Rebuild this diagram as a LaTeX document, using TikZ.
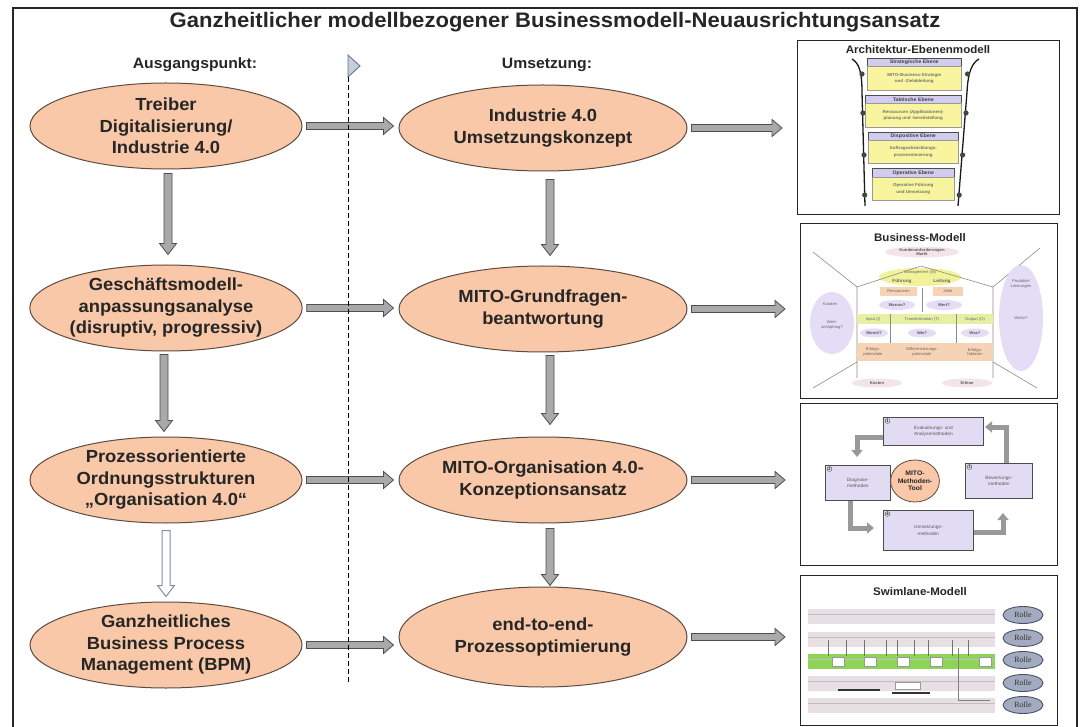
\documentclass[tikz,border=0pt]{standalone}
\usepackage{fontspec}
\setmainfont{Liberation Sans}[FakeStretch=1.05]
\newfontfamily\rollefont{Liberation Serif}
\usetikzlibrary{calc,shapes.geometric,arrows.meta}
\newcommand{\setfs}[2]{\fontsize{#1}{#2}\selectfont}
\definecolor{peach}{HTML}{F8C8A8}
\definecolor{ellb}{HTML}{5E4C40}
\definecolor{arrf}{HTML}{A9A9A9}
\definecolor{arrd}{HTML}{4E4E4E}
\definecolor{hollowd}{HTML}{8090A8}
\definecolor{triF}{HTML}{C5CEDC}
\definecolor{triD}{HTML}{5E6E86}
\definecolor{txt}{HTML}{262626}
\definecolor{lav}{HTML}{D2CCEE}
\definecolor{yel}{HTML}{F8F59E}
\definecolor{palelav}{HTML}{E5DCF5}
\definecolor{palepink}{HTML}{F3E3EA}
\definecolor{orangeB}{HTML}{F7D3B6}
\definecolor{yelgreen}{HTML}{E6F0A4}
\definecolor{mgmtY}{HTML}{F2F29A}
\definecolor{greenL}{HTML}{8ED457}
\definecolor{laneP}{HTML}{E7DFE3}
\definecolor{rolleF}{HTML}{A3ABC0}
\definecolor{rolleD}{HTML}{4A5268}
\definecolor{boxlav}{HTML}{E1DBF3}
\definecolor{markc}{HTML}{3E4A3E}
\tikzset{
  frame/.style={draw=black!85, line width=2pt},
  titlefont/.style={font=\setfs{21}{24}\bfseries, text=txt, inner sep=0pt},
  headfont/.style={font=\setfs{15}{17}\bfseries, text=txt, inner sep=0pt},
  mainell/.style={ellipse, draw=ellb, line width=1pt, fill=peach, minimum width=272pt,
    minimum height=86pt, inner sep=0pt, align=center, font=\setfs{17.5}{21.5}\bfseries, text=txt},
  blockarr/.style={fill=arrf, draw=arrd, line width=0.8pt},
  hollowarr/.style={fill=white, draw=hollowd, line width=1pt},
  divider/.style={draw=black, line width=0.8pt, dash pattern=on 5pt off 3pt},
  thumb/.style={draw=black!85, line width=1.2pt, fill=white, anchor=north west, inner sep=0pt},
  thumbtitle/.style={font=\setfs{11}{12}\bfseries, text=black!85, inner sep=0pt},
  lhead/.style={rectangle, draw=black!70, line width=0.6pt, fill=lav, inner sep=0pt, anchor=north west,
    font=\setfs{5}{5.5}\bfseries, text=black!75},
  lyel/.style={rectangle, draw=black!40, line width=0.5pt, fill=yel, inner sep=0pt, anchor=north west,
    align=center, font=\setfs{4.3}{6.5}\bfseries, text=black!55},
  funnel/.style={draw=black!90, line width=1.3pt},
  houseline/.style={draw=black!45, line width=0.6pt},
  bmtxt/.style={font=\setfs{4}{4.8}, text=black!60, align=center, inner sep=0pt},
  bmell/.style={ellipse, fill=palelav, inner sep=0pt, font=\setfs{4}{4.8}\bfseries, text=black!65, align=center},
  mbox/.style={rectangle, draw=black!70, line width=0.8pt, fill=boxlav, anchor=north west, inner sep=0pt,
    align=center, font=\setfs{4.6}{6.5}, text=black!65},
  numtag/.style={circle, draw=black!70, fill=white, line width=0.5pt, inner sep=0.4pt, font=\setfs{4}{4}\bfseries},
  bentarr/.style={draw=black!40, line width=5pt, -{Triangle[width=11pt,length=7pt]}},
  rolle/.style={ellipse, draw=rolleD, line width=0.9pt, fill=rolleF, minimum width=40pt, minimum height=17pt,
    inner sep=0pt, font=\rollefont\setfs{8}{8}, text=black!80}
}
\newcommand{\hblockarrow}[3][blockarr]{%
  \draw[#1] let \p1=(#2), \p2=(#3) in
    (\x1,\y1+3.5pt) -- (\x2-10pt,\y1+3.5pt) -- (\x2-10pt,\y1+8.5pt) -- (\x2,\y1)
    -- (\x2-10pt,\y1-8.5pt) -- (\x2-10pt,\y1-3.5pt) -- (\x1,\y1-3.5pt) -- cycle;}
\newcommand{\vblockarrow}[3][blockarr]{%
  \draw[#1] let \p1=(#2), \p2=(#3) in
    (\x1-4pt,\y1) -- (\x1-4pt,\y2+11pt) -- (\x1-8.5pt,\y2+11pt) -- (\x1,\y2)
    -- (\x1+8.5pt,\y2+11pt) -- (\x1+4pt,\y2+11pt) -- (\x1+4pt,\y1) -- cycle;}
\begin{document}
\begin{tikzpicture}[x=1pt,y=-1pt]
\useasboundingbox (0,0) rectangle (1082,727);
\fill[white] (0,0) rectangle (1082,727);

% outer frame
\draw[frame] (13,740) -- (13,8) -- (1077,8) -- (1077,740);

% headings
\node[titlefont] (title) at (555,22) {Ganzheitlicher modellbezogener Businessmodell-Neuausrichtungsansatz};
\node[headfont] (hA) at (195,65) {Ausgangspunkt:};
\node[headfont] (hU) at (547,65) {Umsetzung:};

% main ellipses
\node[mainell] (L1) at (166,126) {Treiber\\Digitalisierung/\\Industrie 4.0};
\node[mainell] (L2) at (166,308) {Geschäftsmodell-\\anpassungsanalyse\\(disruptiv, progressiv)};
\node[mainell] (L3) at (166,480) {Prozessorientierte\\Ordnungsstrukturen\\„Organisation 4.0“};
\node[mainell] (L4) at (166,645) {Ganzheitliches\\Business Process\\Management (BPM)};
\node[mainell, minimum width=288pt] (M1) at (543,128) {Industrie 4.0\\Umsetzungskonzept};
\node[mainell, minimum width=288pt] (M2) at (543,309) {MITO-Grundfragen-\\beantwortung};
\node[mainell, minimum width=288pt] (M3) at (543,480) {MITO-Organisation 4.0-\\Konzeptionsansatz};
\node[mainell, minimum width=288pt, minimum height=100pt] (M4) at (543,637) {end-to-end-\\Prozessoptimierung};

% thumbnail boxes
\node[thumb, minimum width=262pt, minimum height=174pt] (B1) at (797,40) {};
\node[thumb, minimum width=257pt, minimum height=175pt] (B2) at (800,223) {};
\node[thumb, minimum width=257pt, minimum height=162pt] (B3) at (800,403) {};
\node[thumb, minimum width=257pt, minimum height=150pt] (B4) at (800,575) {};

% horizontal arrows
\hblockarrow{[xshift=4pt]L1.east}{[xshift=-5pt]M1.west}
\hblockarrow{[xshift=4pt]L2.east}{[xshift=-5pt]M2.west}
\hblockarrow{[xshift=4pt]L3.east}{[xshift=-5pt]M3.west}
\hblockarrow{[xshift=4pt]L4.east}{[xshift=-5pt]M4.west}
\hblockarrow{[xshift=4pt]M1.east}{[xshift=-15pt]B1.west}
\hblockarrow{[xshift=4pt]M2.east}{[xshift=-15pt]B2.west}
\hblockarrow{[xshift=4pt]M3.east}{[xshift=-15pt]B3.west}
\hblockarrow{[xshift=4pt]M4.east}{[xshift=-15pt]B4.west}

% vertical arrows
\vblockarrow{[xshift=2pt,yshift=-4pt]L1.south}{[yshift=10pt]L2.north}
\vblockarrow{[xshift=-2pt,yshift=-3pt]L2.south}{[yshift=5pt]L3.north}
\vblockarrow[hollowarr]{[yshift=-7pt]L3.south}{[yshift=5pt]L4.north}
\vblockarrow{[xshift=7pt,yshift=-8pt]M1.south}{[yshift=10pt]M2.north}
\vblockarrow{[xshift=7pt,yshift=-3pt]M2.south}{[yshift=12pt]M3.north}
\vblockarrow{[xshift=7pt,yshift=-5pt]M3.south}{[yshift=1pt]M4.north}

% divider
\filldraw[fill=triF, draw=triD, line width=0.8pt] (348,55) -- (360,66) -- (348,77) -- cycle;
\coordinate (dtop) at (348,77);
\coordinate (dbot) at (348,683);
\draw[divider] (dtop) -- (dbot);

% ---------- Box 1: Architektur-Ebenenmodell ----------
\node[thumbtitle] (A1t) at (918,50) {Architektur-Ebenenmodell};
\node[lhead, minimum width=94pt, minimum height=8pt] (H1) at (867,58) {Strategische Ebene};
\node[lyel, minimum width=94pt, minimum height=24pt] (Y1) at (867,66) {MITO-Business-Strategie\\und -Zielableitung};
\node[lhead, minimum width=96pt, minimum height=8pt] (H2) at (865,95) {Taktische Ebene};
\node[lyel, minimum width=96pt, minimum height=24pt] (Y2) at (865,103) {Ressourcen (Applikationen)-\\planung und -bereitstellung};
\node[lhead, minimum width=90pt, minimum height=8pt] (H3) at (868,132) {Dispositive Ebene};
\node[lyel, minimum width=90pt, minimum height=23pt] (Y3) at (868,140) {Auftragsabwicklungs-\\prozesssteuerung};
\node[lhead, minimum width=82pt, minimum height=9pt] (H4) at (872,168) {Operative Ebene};
\node[lyel, minimum width=82pt, minimum height=23pt] (Y4) at (872,177) {Operative Führung\\und Umsetzung};
\draw[funnel] (852,59) .. controls (859,63) and (862,72) .. (862,92) -- (865,206);
\draw[funnel] (979,59) .. controls (972,63) and (968,72) .. (967,92) -- (958,206);
\foreach \yy/\xl/\xr in {74/862/967.5, 113/862.9/966, 155/864/962.6, 195/864.7/959.2}{
  \fill[markc] (\xl,\yy) circle (2.6pt);
  \fill[markc] (\xr,\yy) circle (2.6pt);}

% ---------- Box 2: Business-Modell ----------
\node[thumbtitle] (A2t) at (920,238) {Business-Modell};
\node[bmell, fill=palepink, minimum width=74pt, minimum height=11pt] (bm0) at (922,252) {Kundenanforderungen\\Markt};
\node[ellipse, fill=mgmtY, minimum width=82pt, minimum height=18pt, inner sep=0pt] (bmM) at (920,277) {};
\node[bmtxt] (bmMt) at (920,272) {Management (M)};
\node[bmtxt, font=\setfs{4.5}{5}\bfseries] (bmF) at (902,281.5) {Führung};
\node[bmtxt, font=\setfs{4.5}{5}\bfseries] (bmL) at (942,281.5) {Leitung};
\draw[houseline] (857,378) -- (857,287) -- (921,266) -- (993,287) -- (993,378);
\draw[houseline] (857,287) -- (813,252);
\draw[houseline] (993,287) -- (1040,248);
\draw[houseline] (857,362) -- (813,388);
\draw[houseline] (993,362) -- (1037,388);
\draw[houseline] (922,288) -- (922,312);
\fill[orangeB] (880,287) rectangle (917,296);
\fill[orangeB] (933,287) rectangle (963,296);
\node[bmtxt] (bmR) at (898.5,291.5) {Ressourcen};
\node[bmtxt] (bmZ) at (948,291.5) {Ziele};
\node[bmell, minimum width=36pt, minimum height=10pt] (bmW1) at (897,305) {Warum?};
\node[bmell, minimum width=36pt, minimum height=10pt] (bmW2) at (944,305) {Wert?};
\fill[yelgreen] (857,314) rectangle (993,324);
\draw[houseline] (890,314) -- (890,343);
\draw[houseline] (956,314) -- (956,343);
\node[bmtxt] (bmI) at (873,319) {Input (I)};
\node[bmtxt] (bmT) at (922,319) {Transformation (T)};
\node[bmtxt] (bmO) at (975,319) {Output (O)};
\node[bmell, minimum width=28pt, minimum height=9pt] (bmWo) at (874,333) {Womit?};
\node[bmell, minimum width=28pt, minimum height=9pt] (bmWi) at (922,333) {Wie?};
\node[bmell, minimum width=28pt, minimum height=9pt] (bmWa) at (975,333) {Was?};
\fill[orangeB] (857,343) rectangle (993,361);
\node[bmtxt] (bmE1) at (873,352) {Erfolgs-\\potenziale};
\node[bmtxt] (bmE2) at (922,352) {Differenzierungs-\\potenziale};
\node[bmtxt] (bmE3) at (975,352) {Erfolgs-\\faktoren};
\node[bmell, minimum width=44pt, minimum height=62pt] (bmK) at (832,323) {};
\node[bmtxt] (bmKt) at (830,304) {Kunden};
\node[bmtxt] (bmKw) at (832,325) {Wert-\\schöpfung?};
\node[bmell, minimum width=44pt, minimum height=106pt] (bmP) at (1021,318) {};
\node[bmtxt] (bmPt) at (1021,284) {Produkte/\\Leistungen};
\node[bmtxt] (bmPw) at (1021,318) {Wofür?};
\node[bmell, fill=palepink, minimum width=50pt, minimum height=9pt] (bmKo) at (877,383) {Kosten};
\node[bmell, fill=palepink, minimum width=50pt, minimum height=9pt] (bmEr) at (967,383) {Erlöse};

% ---------- Box 3: MITO-Methoden-Tool ----------
\node[mbox, minimum width=100pt, minimum height=28pt] (T) at (883,417) {Evaluierungs- und\\Analysemethoden};
\node[mbox, minimum width=65pt, minimum height=35pt] (D) at (825,465) {Diagnose-\\methoden};
\node[mbox, minimum width=67pt, minimum height=35pt] (E) at (965,463) {Bewertungs-\\methoden};
\node[mbox, minimum width=90pt, minimum height=40pt] (U) at (883,510) {Umsetzungs-\\methoden};
\node[numtag] (n1) at (887.5,421) {1};
\node[numtag] (n2) at (829.5,469) {2};
\node[numtag] (n3) at (969.5,467) {3};
\node[numtag] (n4) at (887.5,514) {4};
\node[ellipse, draw=ellb, line width=0.8pt, fill=peach, minimum width=46pt, minimum height=42pt, inner sep=0pt,
  align=center, font=\setfs{6.5}{7.5}\bfseries, text=txt] (MT) at (915,481) {MITO-\\Methoden-\\Tool};
\coordinate (c1) at (857,457);
\coordinate (c2) at (874,528);
\coordinate (c3) at (1003,513);
\coordinate (c4) at (985,427);
\draw[bentarr] ([yshift=-6pt]T.west) -| (c1);
\draw[bentarr] ([xshift=-7pt]D.south) |- (c2);
\draw[bentarr] ([yshift=-2pt]U.east) -| (c3);
\draw[bentarr] ([xshift=8pt]E.north) |- (c4);

% ---------- Box 4: Swimlane-Modell ----------
\node[thumbtitle] (A4t) at (920,592) {Swimlane-Modell};
\foreach \yy/\cc in {609/laneP, 632/laneP, 654/greenL, 676/laneP, 698/laneP}{
  \fill[\cc] (808,\yy) rectangle (995,\yy+15);
  \draw[black!25, line width=0.4pt] (808,\yy+5) -- (995,\yy+5);}
\foreach \xx in {838,870,903,936,985}
  \filldraw[fill=white, draw=black!40, line width=0.3pt] (\xx-6,657) rectangle (\xx+6,666);
\foreach \xx in {828,846,864,886,897,914,928,952,968}
  \draw[black!55, line width=0.4pt] (\xx,640) -- (\xx,656);
\draw[black!80, line width=1.2pt] (838,690) -- (880,690);
\draw[black!80, line width=1.2pt] (892,693) -- (930,693);
\draw[black!50, line width=0.4pt] (958,648) -- (958,700) -- (990,700);
\filldraw[fill=white, draw=black!40, line width=0.3pt] (895,682) rectangle (920,689);
\foreach \i/\yy in {1/615,2/638,3/660,4/683,5/705}
  \node[rolle] (R\i) at (1023,\yy) {Rolle};
\end{tikzpicture}
\end{document}
